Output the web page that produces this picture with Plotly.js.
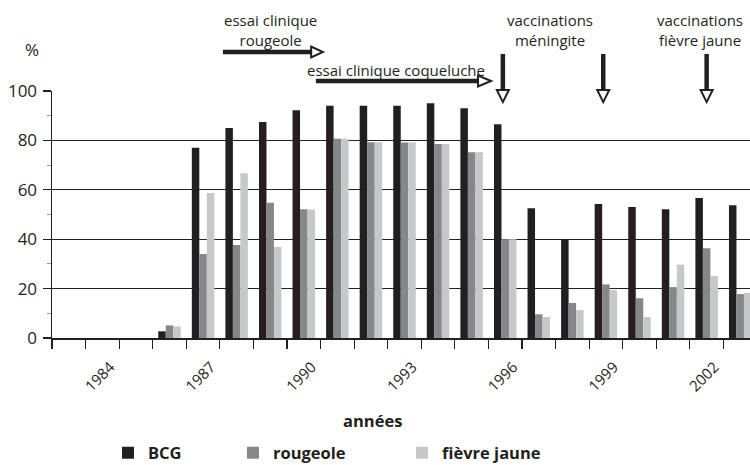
<!DOCTYPE html>
<html>
<head>
<meta charset="utf-8">
<script src="https://cdn.plot.ly/plotly-3.0.1.min.js"></script>
<style>html,body{margin:0;padding:0;overflow:hidden;background:#fff;}#chart{width:757px;height:465px;}</style>
</head>
<body>
<div id="chart"></div>
<script>
// ---- data ----
const years = [1983,1984,1985,1986,1987,1988,1989,1990,1991,1992,1993,1994,1995,1996,1997,1998,1999,2000,2001,2002,2003];
const bcg        = [null,null,null,2.7,77,85,87.5,92.2,94,94,94,95,93,86.5,52.5,40,54.3,53,52.1,56.7,53.7];
const rougeole   = [null,null,null,5.1,34,37.7,54.8,52.1,80.7,79.3,79.1,78.5,75.2,40,9.6,14.2,21.7,16.1,20.6,36.3,17.8];
const fievreJaune= [null,null,null,4.7,58.7,66.7,36.8,52,80.7,79.3,79.1,78.5,75.2,40,8.5,11.3,19.4,8.5,29.7,25.1,18.3];
const tickYears  = [1984,1987,1990,1993,1996,1999,2002];
const tickLabels = ['1984','1987','1990','1993','1996','1999','2002'];
const seriesNames = ['BCG','rougeole','fièvre jaune'];
const seriesColors = ['#231f20','#87878a','#c7c8ca'];

// event annotations (x in years)
const vaccArrowYears = [1995.93, 1998.92, 2002.0];
const trialArrows = [ // [start, headBase, tip, yPaper]
  [1987.59, 1990.22, 1990.57, 1.158],
  [1990.36, 1995.19, 1995.58, 1.0405]
];

const ink = '#231f20';
const font = 'Open Sans, sans-serif';

const series = [bcg, rougeole, fievreJaune];
const traces = series.map((vals, i) => ({
  type: 'bar', x: years, y: vals, name: seriesNames[i],
  marker: {color: seriesColors[i], line: {width: 0}},
  legend: i === 0 ? 'legend' : 'legend' + (i + 1)
}));

const shapes = [];
vaccArrowYears.forEach(xv => {
  shapes.push({type:'line', xref:'x', yref:'paper', x0:xv, x1:xv, y0:1.150, y1:1.004, line:{color:ink, width:4.5}});
  shapes.push({type:'path', xref:'x', yref:'paper', xsizemode:'pixel', xanchor:xv,
    path:'M-6,1.004 L6,1.004 L0,0.955 Z', fillcolor:'#ffffff', line:{color:ink, width:2}});
});
trialArrows.forEach(a => {
  shapes.push({type:'line', xref:'x', yref:'paper', x0:a[0], x1:a[1], y0:a[3], y1:a[3], line:{color:ink, width:4.5}});
  shapes.push({type:'path', xref:'x', yref:'paper', ysizemode:'pixel', yanchor:a[3],
    path:'M' + a[1] + ',-5.5 L' + a[1] + ',5.5 L' + a[2] + ',0 Z', fillcolor:'#ffffff', line:{color:ink, width:2}});
});

const annFont = {family: font, size: 15, color: ink};
function ann(x, y, text, f, xref) {
  return {xref: xref || 'x', yref:'paper', x:x, y:y, text:text, showarrow:false,
          xanchor:'center', yanchor:'middle', font:f || annFont};
}
const annotations = [
  ann(1989.0, 1.247, 'essai clinique<br>rougeole'),
  ann(1992.75, 1.085, 'essai clinique coqueluche'),
  ann(1997.33, 1.247, 'vaccinations<br>méningite'),
  ann(2001.8, 1.247, 'vaccinations<br>fièvre jaune'),
  ann(-0.028, 1.17, '%', {family:font, size:17, color:ink}, 'paper'),
  ann(0.455, -0.332, '<b>années</b>', {family:font, size:16.5, color:ink}, 'paper')
];

const legFont = {family: font, size: 16.5, color: ink, weight: 'bold'};
function leg(x) {
  return {orientation:'h', x:x, xanchor:'left', y:-0.4656, yanchor:'middle', font:legFont,
          bgcolor:'rgba(0,0,0,0)', borderwidth:0};
}

const layout = {
  width: 757, height: 465,
  margin: {l: 52, r: 0, t: 91, b: 127, autoexpand: false},
  paper_bgcolor: '#ffffff', plot_bgcolor: '#ffffff',
  barmode: 'group', bargap: 0.33, bargroupgap: 0,
  font: {family: font, color: ink},
  showlegend: true,
  legend: leg(0.0794), legend2: leg(0.2567), legend3: leg(0.4965),
  xaxis: {
    type: 'linear', range: [1982.5, 2003.5], fixedrange: true, automargin: false,
    tickmode: 'array', tickvals: tickYears, ticktext: tickLabels, tickangle: -45,
    ticks: 'outside', ticklen: 8, tickcolor: 'rgba(0,0,0,0)',
    ticklabelshift: 8, ticklabelstandoff: 5,
    minor: {tick0: 1982.5, dtick: 1, ticks: 'outside', ticklen: 9, tickwidth: 1.2, tickcolor: ink, showgrid: false},
    showgrid: false, zeroline: false,
    showline: true, linecolor: ink, linewidth: 1.5,
    tickfont: {family: font, size: 15, color: ink}
  },
  yaxis: {
    range: [0, 100], dtick: 20, fixedrange: true, automargin: false,
    ticks: 'outside', ticklen: 8, tickwidth: 1.3, tickcolor: ink,
    minor: {dtick: 10, ticks: 'outside', ticklen: 4, tickwidth: 1, tickcolor: '#999', showgrid: false},
    showgrid: true, gridcolor: ink, gridwidth: 1.3,
    zeroline: false, showline: true, linecolor: ink, linewidth: 1.5,
    tickfont: {family: font, size: 17, color: ink}, ticklabelstandoff: 2
  },
  shapes: shapes,
  annotations: annotations
};

Plotly.newPlot('chart', traces, layout, {displayModeBar: false, staticPlot: true});
</script>
</body>
</html>
